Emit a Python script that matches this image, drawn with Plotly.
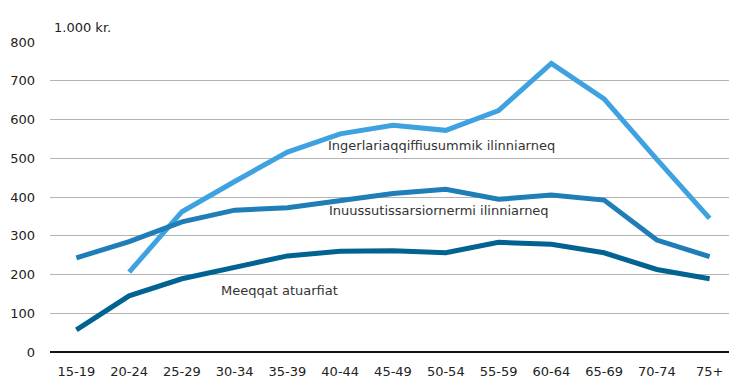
import plotly.graph_objects as go

categories = ["15-19", "20-24", "25-29", "30-34", "35-39", "40-44", "45-49",
              "50-54", "55-59", "60-64", "65-69", "70-74", "75+"]
meeqqat = [57, 145, 189, 219, 248, 260, 261, 256, 283, 278, 256, 213, 189]
inuussutissarsiornermi = [243, 285, 336, 366, 372, 390, 409, 420, 394, 405, 392, 289, 246]
ingerlariaqqiffiusummik = [None, 206, 362, 440, 516, 563, 585, 572, 623, 745, 653, 497, 345]
y_ticks = [0, 100, 200, 300, 400, 500, 600, 700, 800]

FONT = "DejaVu Sans, Verdana, sans-serif"

fig = go.Figure()
fig.add_trace(go.Scatter(x=categories, y=ingerlariaqqiffiusummik, mode="lines",
                         line=dict(color="#3fa2e0", width=5), connectgaps=False,
                         name="Ingerlariaqqiffiusummik ilinniarneq"))
fig.add_trace(go.Scatter(x=categories, y=inuussutissarsiornermi, mode="lines",
                         line=dict(color="#1f7db8", width=5),
                         name="Inuussutissarsiornermi ilinniarneq"))
fig.add_trace(go.Scatter(x=categories, y=meeqqat, mode="lines",
                         line=dict(color="#006391", width=5),
                         name="Meeqqat atuarfiat"))

fig.update_layout(
    width=737, height=386,
    paper_bgcolor="white", plot_bgcolor="white",
    margin=dict(l=42, r=9, t=34, b=42, autoexpand=False),
    showlegend=False,
    font=dict(family=FONT, size=13, color="#222222"),
    xaxis=dict(type="category", showgrid=False, ticks="", showline=False,
               automargin=False, tickfont=dict(size=13), range=[-0.5, 12.5],
               ticklabelstandoff=10),
    yaxis=dict(range=[0, 800], tickvals=y_ticks, showgrid=True,
               gridcolor="#b4b4b4", gridwidth=1, zeroline=True,
               zerolinecolor="#111111", zerolinewidth=2, automargin=False,
               tickfont=dict(size=13), ticks="", ticklabelstandoff=14),
    annotations=[
        dict(text="1.000 kr.", xref="paper", yref="paper", x=0.003, y=1.0,
             xanchor="left", yanchor="bottom", yshift=5, showarrow=False,
             font=dict(size=13)),
        dict(text="Ingerlariaqqiffiusummik ilinniarneq", xref="x", yref="y",
             x=6.92, y=533, showarrow=False, font=dict(size=13, color="#333333")),
        dict(text="Inuussutissarsiornermi ilinniarneq", xref="x", yref="y",
             x=6.88, y=364, showarrow=False, font=dict(size=13, color="#333333")),
        dict(text="Meeqqat atuarfiat", xref="x", yref="y",
             x=3.85, y=158, showarrow=False, font=dict(size=13, color="#333333")),
    ],
)

fig.write_html("out.html")
